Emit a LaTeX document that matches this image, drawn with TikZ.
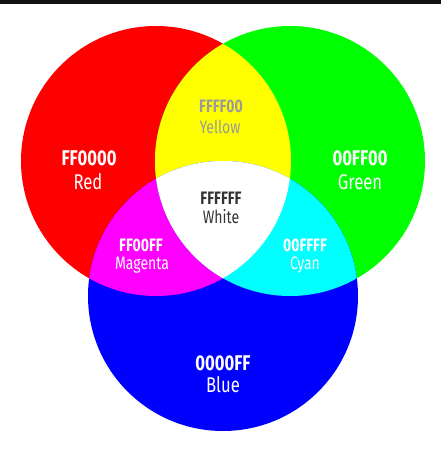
\documentclass[tikz,border=0pt]{standalone}
\usepackage{fontspec}
\setmainfont{Fira Sans}[FakeStretch=0.78]

\definecolor{rgbred}{HTML}{FF0000}
\definecolor{rgbgreen}{HTML}{00FF00}
\definecolor{rgbblue}{HTML}{0000FF}
\definecolor{rgbyellow}{HTML}{FFFF00}
\definecolor{rgbmagenta}{HTML}{FF00FF}
\definecolor{rgbcyan}{HTML}{00FFFF}
\definecolor{hexgray}{HTML}{9A9A9A}
\definecolor{hexdark}{HTML}{333333}

\tikzset{
  biglabel/.style={text=white,font=\fontsize{16}{18}\selectfont},
  smalllabel/.style={text=white,font=\fontsize{13.5}{15}\selectfont},
}

\begin{document}
\begin{tikzpicture}[x=0.75pt,y=-0.75pt]
  \useasboundingbox (0,0) rectangle (441,452);
  \fill[black!93] (0,0) rectangle (441,4);
  % primary discs
  \foreach \cx/\cy/\col in {156/161/rgbred,290/161/rgbgreen,223/296/rgbblue} {
    \fill[\col] (\cx,\cy) circle (135);
  };
  % pairwise overlaps
  \begin{scope}
    \clip (156,161) circle (135);
    \fill[rgbyellow] (290,161) circle (135);
    \fill[rgbmagenta] (223,296) circle (135);
  \end{scope}
  \begin{scope}
    \clip (290,161) circle (135);
    \fill[rgbcyan] (223,296) circle (135);
  \end{scope}
  % centre
  \begin{scope}
    \clip (156,161) circle (135);
    \clip (290,161) circle (135);
    \fill[white] (223,296) circle (135);
  \end{scope}
  \node[biglabel] (redhex) at (89,158) {\bfseries FF0000};
  \node[biglabel] (redname) at (88,182) {Red};
  \node[biglabel] (greenhex) at (360,158) {\bfseries 00FF00};
  \node[biglabel] (greenname) at (360,182) {Green};
  \node[biglabel] (bluehex) at (223,363) {\bfseries 0000FF};
  \node[biglabel] (bluename) at (223,385) {Blue};
  \node[smalllabel,text=hexgray] (yellowhex) at (221,106) {\bfseries FFFF00};
  \node[smalllabel,text=hexgray] (yellowname) at (220,127) {Yellow};
  \node[smalllabel,text=hexdark] (whitehex) at (221,198) {\bfseries FFFFFF};
  \node[smalllabel,text=hexdark] (whitename) at (221,217) {White};
  \node[smalllabel] (magentahex) at (141,245) {\bfseries FF00FF};
  \node[smalllabel] (magentaname) at (142,265) {Magenta};
  \node[smalllabel] (cyanhex) at (305,245) {\bfseries 00FFFF};
  \node[smalllabel] (cyanname) at (305,265) {Cyan};
\end{tikzpicture}
\end{document}
